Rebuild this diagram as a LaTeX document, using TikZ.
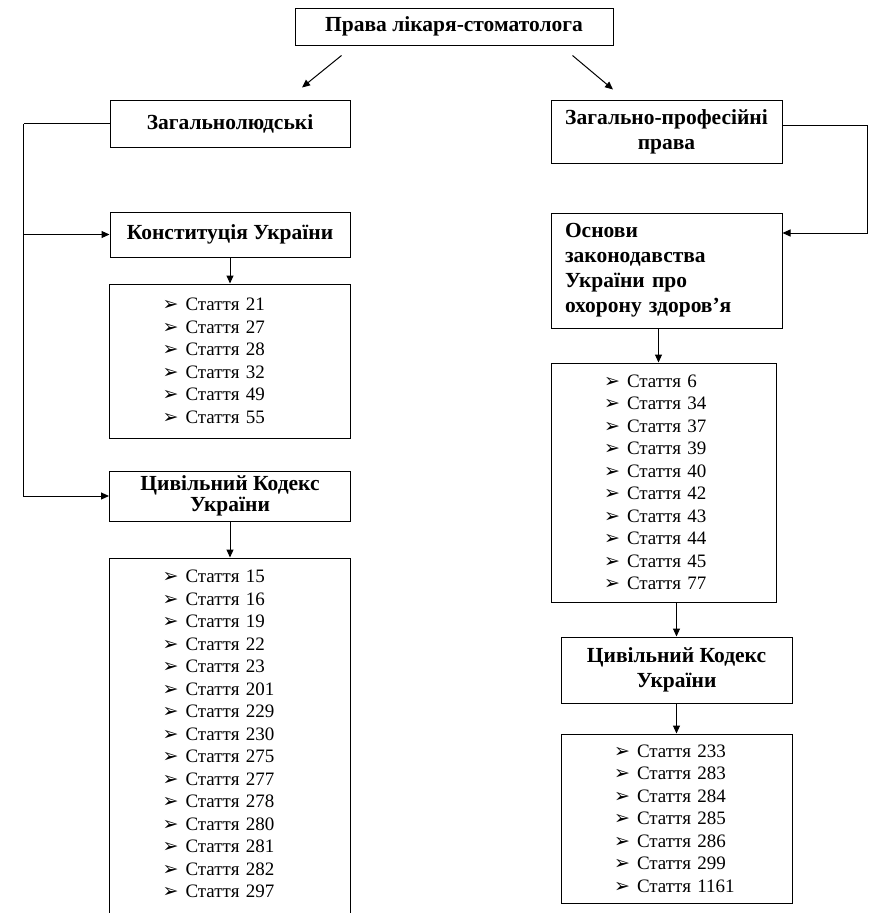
\documentclass[tikz,border=0pt]{standalone}
\usepackage{fontspec}
\setmainfont{Liberation Serif}
\newfontfamily\symfont{DejaVu Sans}
\usetikzlibrary{arrows.meta, positioning}

\newcommand{\bul}{{\symfont\fontsize{19}{19}\selectfont ➢}}
\newcommand{\stt}[1]{\makebox[23pt][l]{\bul}Стаття #1}

\tikzset{
  headbox/.style = {
    draw, line width=1pt, minimum width=#1,
    align=center, font=\fontsize{21.5}{25}\selectfont\bfseries, inner sep=2pt
  },
  headbox/.default = 240pt,
  listbox/.style = {
    draw, line width=1pt, text width=#1,
    align=left, inner xsep=53pt, font=\fontsize{19}{22.5}\selectfont
  },
  listbox/.default = 135pt,
  arr/.style = {-{Triangle[length=8pt,width=7pt]}, line width=1pt},
  lne/.style = {line width=1pt},
}

\begin{document}
\begin{tikzpicture}[x=1pt, y=-1pt]
  \useasboundingbox (0,0) rectangle (870,913);
  \clip (0,0) rectangle (870,913);

  \node[headbox=318pt, minimum height=37pt] (title) at (454,26.5)
    {Права лікаря-стоматолога};

  %% Left column
  \node[headbox, minimum height=47pt] (gen) at (230,123.5) {Загальнолюдські};
  \node[headbox, minimum height=45pt, below=64pt of gen] (konst)
    {Конституція України};
  \node[listbox, minimum height=154pt, below=26pt of konst] (konstlist)
    {\stt{21}\\ \stt{27}\\ \stt{28}\\ \stt{32}\\ \stt{49}\\ \stt{55}};
  \node[headbox=241pt, minimum height=50pt, below=32pt of konstlist,
        font=\fontsize{21.5}{20.5}\selectfont\bfseries] (civl)
    {Цивільний Кодекс\\України};
  \node[listbox, inner ysep=12pt, below=36pt of civl] (civllist)
    {\stt{15}\\ \stt{16}\\ \stt{19}\\ \stt{22}\\ \stt{23}\\ \stt{201}\\
     \stt{229}\\ \stt{230}\\ \stt{275}\\ \stt{277}\\ \stt{278}\\ \stt{280}\\
     \stt{281}\\ \stt{282}\\ \stt{297}\\[20pt]\strut};

  %% Right column
  \node[headbox=231pt, minimum height=63pt] (prof) at (666.5,131.5)
    {Загально-професійні\\права};
  \node[headbox=231pt, minimum height=115pt, below=49pt of prof,
        align=left, text width=203pt, inner xsep=14pt] (osn)
    {Основи\\законодавства\\України про\\охорону здоров’я};
  \node[listbox=119pt, minimum height=239pt, below=34pt of osn,
        xshift=-3pt] (osnlist)
    {\stt{6}\\ \stt{34}\\ \stt{37}\\ \stt{39}\\ \stt{40}\\ \stt{42}\\
     \stt{43}\\ \stt{44}\\ \stt{45}\\ \stt{77}};
  \node[headbox=231pt, minimum height=66pt, below=34pt of osnlist,
        xshift=13pt] (civr)
    {Цивільний Кодекс\\України};
  \node[listbox=125pt, minimum height=169pt, below=30pt of civr] (civrlist)
    {\stt{233}\\ \stt{283}\\ \stt{284}\\ \stt{285}\\ \stt{286}\\
     \stt{299}\\ \stt{1161}};

  %% Connectors
  \draw[arr] ([xshift=47pt,yshift=-10pt]title.south west)
    -- ([xshift=72pt,yshift=12pt]gen.north);
  \draw[arr] ([xshift=-41pt,yshift=-10pt]title.south east)
    -- ([xshift=-53.5pt,yshift=10pt]prof.north);

  \coordinate (ltrunk) at ([xshift=-86pt]gen.west);
  \draw[lne] (gen.west) -- (ltrunk);
  \draw[arr] (ltrunk) |- (civl.west);
  \draw[arr] (ltrunk |- konst.west) -- (konst.west);
  \draw[arr] (konst) -- (konstlist);
  \draw[arr] (civl) -- (civllist);

  \coordinate (rtrunk) at ([xshift=85pt,yshift=6.5pt]prof.east);
  \draw[arr] ([yshift=6.5pt]prof.east) -- (rtrunk)
    |- ([yshift=37.5pt]osn.east);
  \coordinate (osnout) at ([xshift=-8pt]osn.south);
  \draw[arr] (osnout) -- (osnout |- osnlist.north);
  \draw[arr] (civr.north |- osnlist.south) -- (civr.north);
  \draw[arr] (civr) -- (civrlist);

\end{tikzpicture}
\end{document}
